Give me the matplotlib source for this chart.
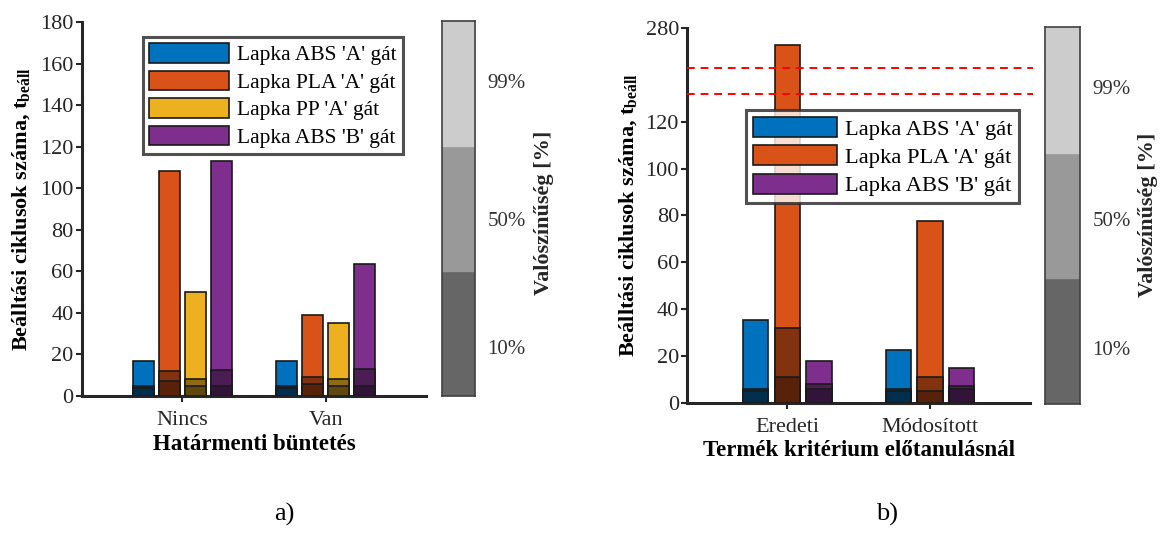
import matplotlib
matplotlib.use("Agg")
import matplotlib.pyplot as plt
import numpy as np

plt.rcParams['font.family'] = ['Liberation Serif', 'DejaVu Serif']
plt.rcParams['mathtext.fontset'] = 'custom'
plt.rcParams['mathtext.rm'] = 'Liberation Serif'
plt.rcParams['mathtext.bf'] = 'Liberation Serif:bold'

# ---------------- data ----------------
# panel a)
cats_a = ["Nincs", "Van"]
series_a = ["Lapka ABS 'A' gát", "Lapka PLA 'A' gát", "Lapka PP 'A' gát", "Lapka ABS 'B' gát"]
# values per series: [Nincs, Van] for 10%, 50%, 99% probability
p10_a = [[4, 4], [7, 6], [5, 5], [5, 5]]
p50_a = [[5, 5], [12, 9], [8, 8], [12.5, 13]]
p99_a = [[17, 17], [108.5, 39], [50, 35], [113, 63.5]]

# panel b)
cats_b = ["Eredeti", "Módosított"]
series_b = ["Lapka ABS 'A' gát", "Lapka PLA 'A' gát", "Lapka ABS 'B' gát"]
p10_b = [[5, 5], [11, 5], [6, 6]]
p50_b = [[6, 6], [32, 11], [8, 7]]
p99_b = [[35.5, 22.5], [273, 77.5], [18, 15]]

# broken axis for panel b
yticks_b = [0, 20, 40, 60, 80, 100, 120, 280]
break_low, break_high = 132, 143    # display positions of the dashed break lines
break_offset = 120                  # values above the break are shown shifted down

prob_labels = ["10%", "50%", "99%"]
prob_colors = ["#666666", "#999999", "#CCCCCC"]

colors_a = ["#0072BD", "#D95319", "#EDB120", "#7E2F8E"]
colors_b = ["#0072BD", "#D95319", "#7E2F8E"]

W, H = 1162, 533
fig = plt.figure(figsize=(W / 100, H / 100), dpi=100)

def px_axes(x0, y0, x1, y1):
    return fig.add_axes([x0 / W, 1 - y1 / H, (x1 - x0) / W, (y1 - y0) / H])

AX_COL = "#262626"
FS = 16

def shade(c, f):
    rgb = np.array(matplotlib.colors.to_rgb(c))
    return tuple(rgb * f)

def disp_b(v):
    return v - break_offset if v > break_low else v

def grouped(ax, cats, series, colors, p10, p50, p99, transform=lambda v: v):
    n = len(series)
    gw = min(0.8, n / (n + 1.5))
    step = gw / n
    x = np.arange(1, len(cats) + 1)
    handles = []
    for i in range(n):
        xs = x - gw / 2 + step * (i + 0.5)
        top = [transform(v) for v in p99[i]]
        h = ax.bar(xs, top, width=step * 0.8, color=colors[i], edgecolor="#1a1a1a",
                   linewidth=1.2, zorder=2, label=series[i])
        ax.bar(xs, p50[i], width=step * 0.8, color=shade(colors[i], 0.6), edgecolor="#1a1a1a",
               linewidth=1.2, zorder=3)
        ax.bar(xs, p10[i], width=step * 0.8, color=shade(colors[i], 0.4), edgecolor="#1a1a1a",
               linewidth=1.2, zorder=4)
        handles.append(h)
    ax.set_xlim(0.3, 2.7)
    ax.set_xticks(x)
    ax.set_xticklabels(cats)
    for s in ["top", "right"]:
        ax.spines[s].set_visible(False)
    for s in ["left", "bottom"]:
        ax.spines[s].set_color(AX_COL)
        ax.spines[s].set_linewidth(2.2)
    ax.tick_params(direction="out", length=4, width=1.5, color=AX_COL, labelsize=FS,
                   labelcolor="#262626", pad=2)
    ax.tick_params(axis="x", pad=7)
    return handles

def colorbar(ax, ypos):
    for i, c in enumerate(prob_colors):
        ax.axhspan(i, i + 1, color=c, zorder=1)
    ax.set_ylim(0, 3)
    ax.set_xlim(0, 1)
    ax.set_xticks([])
    ax.yaxis.tick_right()
    ax.set_yticks([p * 3 for p in ypos])
    ax.set_yticklabels(prob_labels)
    ax.tick_params(axis="y", length=0, labelsize=FS - 1, labelcolor="#333333", pad=9)
    for s in ax.spines.values():
        s.set_color("#404040")
        s.set_linewidth(1.2)

ylabel = "Beálltási ciklusok száma, $\\mathbf{t}_{\\mathbf{beáll}}$"

def style_legend(lg):
    lg.get_frame().set_edgecolor(AX_COL)
    lg.get_frame().set_linewidth(2.2)
    lg.set_zorder(10)

leg_kw = dict(frameon=True, fancybox=False, handleheight=1.0,
              handletextpad=0.35, labelspacing=0.25, borderpad=0.3, borderaxespad=0)

# ---------------- panel a ----------------
axa = px_axes(82, 22, 426, 396)
ha = grouped(axa, cats_a, series_a, colors_a, p10_a, p50_a, p99_a)
axa.set_ylim(0, 180)
axa.set_yticks(np.arange(0, 181, 20))
axa.set_xlabel("Határmenti büntetés", fontsize=FS + 0.5, fontweight="bold", labelpad=3)
axa.set_ylabel(ylabel, fontsize=FS, fontweight="bold", labelpad=5)
leg = axa.legend(handles=ha, loc="upper left", fontsize=FS - 0.5, handlelength=3.7,
                 bbox_to_anchor=((143 - 82) / 344, 1 - (37 - 22) / 374), **leg_kw)
style_legend(leg)

cba = px_axes(441.7, 20.7, 475, 395.7)
colorbar(cba, [0.13, 0.47, 0.84])
fig.text(544 / W, 1 - 213 / H, "Valószínűség [%]", rotation=90, fontsize=FS, fontweight="bold",
         ha="center", va="center", color="#262626")

# ---------------- panel b ----------------
axb = px_axes(687.3, 28.3, 1030, 402.7)
hb = grouped(axb, cats_b, series_b, colors_b, p10_b, p50_b, p99_b, transform=disp_b)
axb.set_ylim(0, 160)
axb.set_yticks([disp_b(v) for v in yticks_b])
axb.set_yticklabels([str(v) for v in yticks_b])
for yb in (break_low, break_high):
    axb.plot([0.3, 2.72], [yb, yb], color="red", linestyle=(0, (4, 3)), linewidth=1.4,
             zorder=6, clip_on=False)
axb.set_xlabel("Termék kritérium előtanulásnál", fontsize=FS + 0.5, fontweight="bold", labelpad=2)
axb.set_ylabel(ylabel, fontsize=FS, fontweight="bold", labelpad=4)
legb = axb.legend(handles=hb, loc="upper left", fontsize=FS + 0.2, handlelength=3.75,
                  bbox_to_anchor=((746 - 687.3) / 342.7, 1 - (110 - 28.3) / 374.4), **leg_kw)
style_legend(legb)

cbb = px_axes(1045, 26.7, 1080, 404.3)
colorbar(cbb, [0.15, 0.49, 0.84])
fig.text(1148 / W, 1 - 215 / H, "Valószínűség [%]", rotation=90, fontsize=FS, fontweight="bold",
         ha="center", va="center", color="#262626")

fig.text(284 / W, 1 - 514 / H, "a)", fontsize=19, ha="center", va="center")
fig.text(887 / W, 1 - 514 / H, "b)", fontsize=19, ha="center", va="center")

fig.savefig("out.png", dpi=100)
